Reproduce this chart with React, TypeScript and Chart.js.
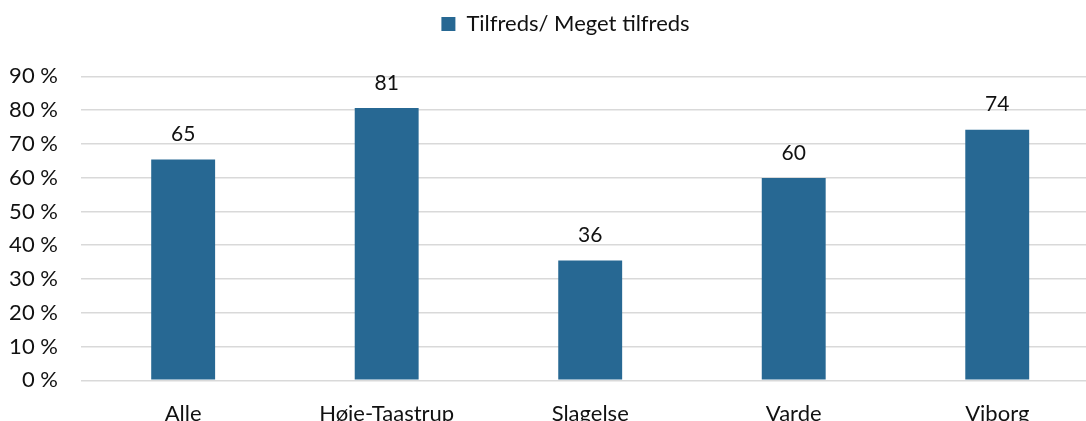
import React, { useEffect, useRef } from "react";
import { Chart, registerables } from "chart.js";

Chart.register(...registerables);

const categories = ["Alle", "Høje-Taastrup", "Slagelse", "Varde", "Viborg"];
const seriesLabel = "Tilfreds/ Meget tilfreds";
const values = [65.4, 80.6, 35.5, 59.9, 74.2];
const yTicks = [0, 10, 20, 30, 40, 50, 60, 70, 80, 90];

const BAR_COLOR = "#276893";
const TEXT_COLOR = "#111111";
const FONT = "Lato, 'Open Sans', sans-serif";

const dataLabelPlugin = {
  id: "dataLabels",
  afterDatasetsDraw(chart: any) {
    const ctx = chart.ctx;
    const meta = chart.getDatasetMeta(0);
    ctx.save();
    ctx.font = `21px ${FONT}`;
    ctx.fillStyle = TEXT_COLOR;
    ctx.textAlign = "center";
    ctx.textBaseline = "middle";
    meta.data.forEach((el: any, i: number) => {
      const v = chart.data.datasets[0].data[i];
      ctx.fillText(String(Math.round(v)), el.x, el.y - 25);
    });
    ctx.restore();
  },
};

export default function App() {
  const ref = useRef<HTMLCanvasElement | null>(null);
  useEffect(() => {
    if (!ref.current) return;
    const chart = new Chart(ref.current, {
      type: "bar",
      data: {
        labels: categories,
        datasets: [
          {
            label: seriesLabel,
            data: values,
            backgroundColor: BAR_COLOR,
            borderWidth: 0,
            categoryPercentage: 1,
            barPercentage: 0.314,
            yAxisID: "y",
          },
        ],
      },
      options: {
        responsive: false,
        animation: false,
        devicePixelRatio: 1,
        layout: { padding: { top: 0, left: 0, right: 0, bottom: 0 } },
        plugins: {
          legend: {
            display: true,
            position: "top",
            labels: {
              boxWidth: 14,
              boxHeight: 14,
              padding: 13,
              color: TEXT_COLOR,
              font: { family: FONT, size: 22 },
            },
          },
          title: {
            display: true,
            text: " ",
            weight: 500,
            font: { size: 10 },
            padding: { top: 0, bottom: 19.3 },
          },
          tooltip: { enabled: false },
        },
        scales: {
          x: {
            grid: { display: false },
            border: { display: false },
            ticks: {
              color: TEXT_COLOR,
              font: { family: FONT, size: 22 },
              padding: 12,
              maxRotation: 0,
            },
            afterFit(s: any) {
              s.height = 40.7;
            },
          },
          y: {
            min: 0,
            max: 90,
            position: "left",
            afterBuildTicks(s: any) {
              s.ticks = yTicks.map((v) => ({ value: v }));
            },
            grid: { color: "#d9d9d9", lineWidth: 1.5, drawTicks: false },
            border: { display: false },
            ticks: {
              color: TEXT_COLOR,
              font: { family: FONT, size: 22 },
              padding: 23.5,
              callback: (v: any) => `${v} %`,
            },
            afterFit(s: any) {
              s.width = 81.4;
            },
          },
          y2: {
            type: "linear",
            position: "right",
            display: true,
            grid: { display: false },
            border: { display: false },
            ticks: { display: false },
            afterFit(s: any) {
              s.width = 32;
            },
          },
        },
      },
      plugins: [dataLabelPlugin],
    });
    return () => chart.destroy();
  }, []);
  return (
    <div style={{ position: "fixed", left: 0, top: 0, width: 1086, height: 421, overflow: "hidden", background: "#fff" }}>
      <canvas ref={ref} width={1131} height={421} style={{ display: "block" }} />
    </div>
  );
}
